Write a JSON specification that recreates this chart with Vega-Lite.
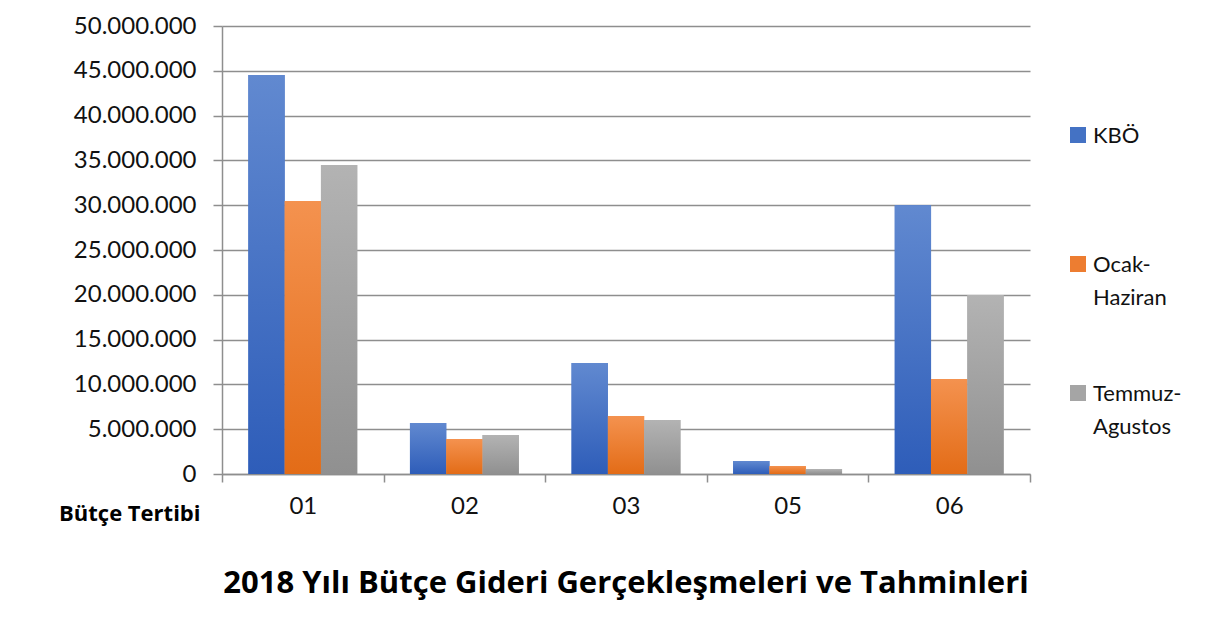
{
  "$schema": "https://vega.github.io/schema/vega-lite/v6.json",
  "width": 808,
  "height": 448,
  "autosize": {"type": "none"},
  "padding": {"left": 222, "top": 26, "right": 193, "bottom": 162},
  "background": "white",
  "config": {
    "font": "Lato",
    "view": {"stroke": null}
  },
  "title": {
    "text": "2018 Yılı Bütçe Gideri Gerçekleşmeleri ve  Tahminleri",
    "orient": "bottom",
    "anchor": "middle",
    "fontSize": 31,
    "fontWeight": "bold",
    "font": "Open Sans",
    "color": "#000000",
    "offset": 45
  },
  "data": {
    "values": [
      {"tertip": "01", "donem": "KBÖ", "deger": 44530000},
      {"tertip": "01", "donem": "Ocak-Haziran", "deger": 30470000},
      {"tertip": "01", "donem": "Temmuz-Agustos", "deger": 34490000},
      {"tertip": "02", "donem": "KBÖ", "deger": 5690000},
      {"tertip": "02", "donem": "Ocak-Haziran", "deger": 3910000},
      {"tertip": "02", "donem": "Temmuz-Agustos", "deger": 4350000},
      {"tertip": "03", "donem": "KBÖ", "deger": 12390000},
      {"tertip": "03", "donem": "Ocak-Haziran", "deger": 6470000},
      {"tertip": "03", "donem": "Temmuz-Agustos", "deger": 6030000},
      {"tertip": "05", "donem": "KBÖ", "deger": 1450000},
      {"tertip": "05", "donem": "Ocak-Haziran", "deger": 890000},
      {"tertip": "05", "donem": "Temmuz-Agustos", "deger": 560000},
      {"tertip": "06", "donem": "KBÖ", "deger": 30000000},
      {"tertip": "06", "donem": "Ocak-Haziran", "deger": 10600000},
      {"tertip": "06", "donem": "Temmuz-Agustos", "deger": 19980000}
    ]
  },
  "encoding": {
    "x": {
      "field": "tertip",
      "type": "nominal",
      "scale": {"paddingInner": 0, "paddingOuter": 0},
      "axis": {
        "title": "Bütçe Tertibi",
        "titleX": -22,
        "titleY": 39,
        "titleAlign": "right",
        "titleBaseline": "middle",
        "titleAngle": 0,
        "titleFont": "Open Sans",
        "titleFontSize": 22,
        "titleFontWeight": "bold",
        "titleColor": "#000000",
        "labelAngle": 0,
        "labelFontSize": 24,
        "labelColor": "#111111",
        "labelPadding": 12,
        "tickBand": "extent",
        "tickSize": 8,
        "tickColor": "#8e8e8e",
        "tickWidth": 1.5,
        "domainColor": "#8e8e8e",
        "domainWidth": 1.5
      }
    },
    "xOffset": {
      "field": "donem",
      "type": "nominal",
      "scale": {"domain": ["KBÖ", "Ocak-Haziran", "Temmuz-Agustos"], "paddingInner": 0, "paddingOuter": 0.726}
    },
    "y": {
      "field": "deger",
      "type": "quantitative",
      "scale": {"domain": [0, 50000000], "nice": false},
      "axis": {
        "title": null,
        "values": [0, 5000000, 10000000, 15000000, 20000000, 25000000, 30000000, 35000000, 40000000, 45000000, 50000000],
        "labelExpr": "replace(format(datum.value, ','), /,/g, '.')",
        "labelFontSize": 24,
        "labelColor": "#111111",
        "labelPadding": 17,
        "tickSize": 9,
        "tickColor": "#8e8e8e",
        "tickWidth": 1.5,
        "gridColor": "#8e8e8e",
        "gridWidth": 1.5,
        "domainColor": "#8e8e8e",
        "domainWidth": 1.5
      }
    }
  },
  "layer": [
    {
      "mark": {"type": "bar"},
      "encoding": {
        "color": {
          "field": "donem",
          "type": "nominal",
          "scale": {
            "domain": ["KBÖ", "Ocak-Haziran", "Temmuz-Agustos"],
            "range": ["#4472c4", "#ed7d31", "#a5a5a5"]
          },
          "legend": {
            "title": null,
            "orient": "none",
            "legendX": 845,
            "legendY": 98,
            "padding": 0,
            "symbolType": "square",
            "symbolSize": 256,
            "symbolStrokeWidth": 0,
            "labelFont": "Lato",
            "labelFontSize": 22,
            "labelColor": "#111111",
            "labelOffset": 4,
            "labelBaseline": "alphabetic",
            "labelLimit": 200,
            "rowPadding": 73,
            "labelExpr": "datum.label == 'Ocak-Haziran' ? ['Ocak-', 'Haziran'] : datum.label == 'Temmuz-Agustos' ? ['Temmuz-', 'Agustos'] : ['KBÖ', ' ']",
            "encoding": {
              "labels": {"lineHeight": {"value": 33}, "dy": {"value": 8}}
            }
          }
        }
      }
    },
    {
      "transform": [{"filter": "datum.donem == 'KBÖ'"}],
      "mark": {"type": "bar", "color": {"gradient": "linear", "x1": 0, "y1": 0, "x2": 0, "y2": 1, "stops": [{"offset": 0, "color": "#6189d0"}, {"offset": 1, "color": "#2e5db9"}]}}
    },
    {
      "transform": [{"filter": "datum.donem == 'Ocak-Haziran'"}],
      "mark": {"type": "bar", "color": {"gradient": "linear", "x1": 0, "y1": 0, "x2": 0, "y2": 1, "stops": [{"offset": 0, "color": "#f4924f"}, {"offset": 1, "color": "#e36c17"}]}}
    },
    {
      "transform": [{"filter": "datum.donem == 'Temmuz-Agustos'"}],
      "mark": {"type": "bar", "color": {"gradient": "linear", "x1": 0, "y1": 0, "x2": 0, "y2": 1, "stops": [{"offset": 0, "color": "#b3b3b3"}, {"offset": 1, "color": "#909090"}]}}
    }
  ]
}
